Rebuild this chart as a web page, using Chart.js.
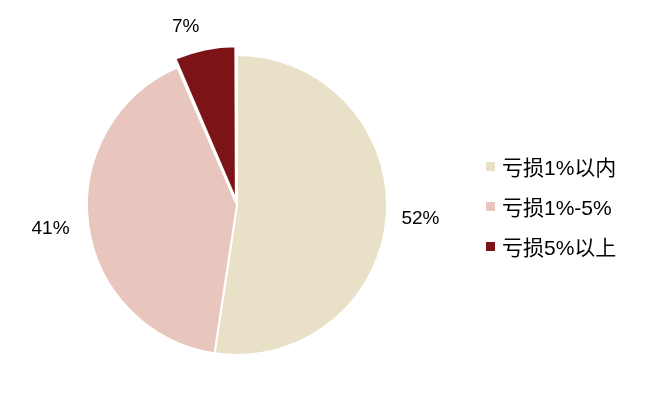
<!DOCTYPE html>
<html>
<head>
<meta charset="utf-8">
<script src="https://cdn.jsdelivr.net/npm/chart.js@4/dist/chart.umd.min.js"></script>
<style>
  html, body { margin: 0; padding: 0; background: #fff; }
  #wrap { position: relative; width: 645px; height: 411px; }
  #legend { position: absolute; left: 486px; top: 146px; font-family: "Liberation Sans", Arial, "Noto Sans CJK SC", sans-serif; font-size: 21px; color: #000; }
  .item { display: flex; align-items: center; height: 40px; }
  .sw { width: 9px; height: 9px; margin-right: 7px; flex: none; }
</style>
</head>
<body>
<div id="wrap">
  <canvas id="c" width="645" height="411"></canvas>
  <div id="legend"></div>
</div>
<script>
const categories = ["亏损1%以内", "亏损1%-5%", "亏损5%以上"];
const values = [52.4, 41.1, 6.5];
const colors = ["#E8E0C7", "#E8C6BD", "#7C1316"];
const offsets = [0, 0, 22];
const labelNudges = [[0, 0], [-4, 0], [-14, 2]];

const labelPlugin = {
  id: 'pieLabels',
  afterDatasetsDraw(chart) {
    const ctx = chart.ctx;
    const meta = chart.getDatasetMeta(0);
    ctx.save();
    ctx.font = '19px "Liberation Sans", Arial, sans-serif';
    ctx.fillStyle = '#000';
    ctx.textAlign = 'center';
    ctx.textBaseline = 'middle';
    meta.data.forEach((arc, i) => {
      const p = arc.getProps(['x', 'y', 'startAngle', 'endAngle', 'outerRadius'], true);
      const a = (p.startAngle + p.endAngle) / 2;
      const d = p.outerRadius + 34;
      const txt = Math.round(values[i]) + '%';
      ctx.fillText(txt, p.x + d * Math.cos(a) + labelNudges[i][0], p.y + d * Math.sin(a) + labelNudges[i][1]);
    });
    ctx.restore();
  }
};

new Chart(document.getElementById('c'), {
  type: 'pie',
  data: {
    labels: categories,
    datasets: [{
      data: values,
      backgroundColor: colors,
      borderColor: '#ffffff',
      borderWidth: 2,
      offset: offsets
    }]
  },
  options: {
    responsive: false,
    animation: false,
    radius: 150,
    layout: { padding: { left: 20, right: 191, top: 20, bottom: 21 } },
    plugins: {
      legend: { display: false },
      tooltip: { enabled: false }
    }
  },
  plugins: [labelPlugin]
});

const lg = document.getElementById('legend');
categories.forEach((c, i) => {
  const it = document.createElement('div');
  it.className = 'item';
  const sw = document.createElement('span');
  sw.className = 'sw';
  sw.style.background = colors[i];
  const tx = document.createElement('span');
  tx.textContent = c;
  it.appendChild(sw);
  it.appendChild(tx);
  lg.appendChild(it);
});
</script>
</body>
</html>
